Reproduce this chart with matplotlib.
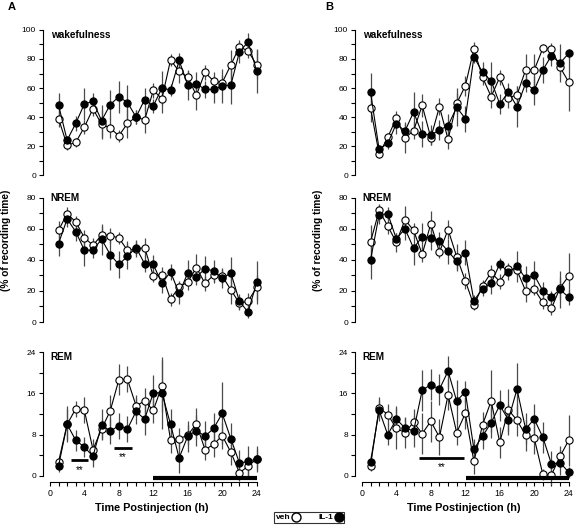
import matplotlib
matplotlib.use('Agg')
import matplotlib.pyplot as plt
from matplotlib.ticker import MultipleLocator
from matplotlib.lines import Line2D

plt.rcParams['font.family'] = ['Liberation Sans', 'DejaVu Sans']

hours = list(range(1, 25))

# ---- Panel A ----
wakeA_veh = [38.9, 20.5, 22.5, 33, 45.7, 35, 32.4, 27, 35.6, 40, 38, 58.4, 52.6, 79.3, 71.5, 67.4, 55, 70.8, 64.8, 63.7, 75.9, 88.5, 85.5, 75.9]
wakeA_veh_err = [6, 3, 3, 5, 5, 10, 7, 4, 10, 5, 9, 5, 10, 4, 8, 5, 10, 5, 6, 5, 10, 3, 5, 10]
wakeA_il1 = [48.3, 24, 35.6, 49, 50.8, 37.5, 48.5, 54, 50, 40, 52, 47.6, 60, 58.6, 79, 62, 63, 59, 59, 61.4, 62, 85, 91.7, 71.7]
wakeA_il1_err = [8, 3, 5, 11, 6, 11, 10, 11, 12, 5, 8, 5, 12, 4, 5, 10, 8, 6, 9, 12, 13, 8, 6, 15]

nremA_veh = [59.1, 69.9, 64.5, 54.4, 49.5, 56.1, 55.7, 54.2, 46.3, 47.1, 48, 29.6, 30.6, 14.6, 22.7, 25.7, 35.1, 24.9, 30.2, 29.6, 20.8, 12, 13.5, 22.3]
nremA_veh_err = [6, 4, 4, 5, 5, 6, 5, 4, 6, 5, 6, 4, 5, 4, 4, 5, 9, 5, 5, 5, 9, 4, 5, 8]
nremA_il1 = [50.6, 66.4, 58.3, 46.3, 46.3, 53.4, 43.5, 37.1, 42.4, 48, 37.5, 37.1, 24.9, 32.4, 18.4, 31.7, 29.1, 34.3, 33, 28.1, 31.7, 13.3, 6.4, 25.5]
nremA_il1_err = [8, 5, 6, 10, 5, 10, 10, 9, 8, 5, 5, 6, 6, 5, 7, 8, 5, 8, 7, 6, 10, 5, 4, 14]

remA_veh = [2.7, 10, 13, 12.7, 5.1, 9.1, 12.6, 18.6, 18.7, 13.6, 14.5, 12.7, 17.4, 7.0, 7.2, 7.9, 10.1, 5.1, 6.1, 7.8, 4.6, 0.6, 1.9, 3.3]
remA_veh_err = [1, 3, 1.5, 2.5, 2, 2, 3, 3, 2.5, 2, 2.5, 2.5, 5, 2.5, 2, 2, 3, 2, 2.5, 2.5, 2.5, 1.5, 2, 2]
remA_il1 = [1.9, 10, 6.9, 5.6, 3.8, 9.9, 8.7, 9.7, 9.1, 12.5, 11, 16.1, 16.1, 10, 3.5, 7.7, 8.8, 7.7, 9.2, 12.1, 7.2, 2.5, 2.8, 3.3]
remA_il1_err = [1.2, 3.5, 2, 2, 2, 3, 2.5, 2.5, 2.5, 2.5, 3, 3.5, 7, 3, 3, 3, 3, 3, 3, 6, 3, 2.5, 3, 2.5]

# ---- Panel B ----
wakeB_veh = [46.4, 14.5, 26, 39.3, 25.5, 30.6, 48, 25.7, 47.1, 24.6, 49.4, 61.4, 86.9, 67.4, 54, 67.4, 53.3, 55.2, 72.4, 72.4, 87.4, 86.9, 74.3, 64.1]
wakeB_veh_err = [10, 3, 3, 5, 10, 6, 8, 5, 6, 7, 7, 7, 5, 5, 8, 5, 7, 6, 11, 11, 3, 4, 5, 20]
wakeB_il1 = [57.2, 17.7, 21.8, 35.4, 30.3, 43.4, 28.3, 27.6, 31, 34, 46.7, 38.9, 81.4, 70.8, 65, 49, 57.2, 47.1, 63.2, 58.6, 72.4, 82.3, 77.2, 83.9]
wakeB_il1_err = [13, 3, 4, 7, 6, 14, 9, 7, 7, 8, 13, 9, 4, 7, 13, 7, 6, 14, 6, 10, 9, 7, 13, 3]

nremB_veh = [51.6, 72, 61.9, 51.4, 66, 59.1, 43.7, 63.4, 45, 59.6, 42.2, 26.6, 10.7, 23.4, 31.9, 26.1, 34.1, 33.4, 20.1, 21.2, 12.6, 8.8, 22.1, 29.6]
nremB_veh_err = [11, 4, 5, 6, 9, 5, 5, 8, 4, 6, 8, 5, 3, 4, 5, 5, 4, 4, 7, 4, 4, 4, 7, 15]
nremB_il1 = [39.9, 69.2, 69.9, 53.6, 60.2, 47.6, 55.1, 54.2, 52.1, 45.6, 39.2, 44.8, 13.7, 21.6, 25.1, 37.5, 32.1, 36, 28.1, 30.2, 20.1, 16.1, 21, 15.9]
nremB_il1_err = [12, 6, 4, 4, 7, 11, 9, 8, 6, 8, 6, 8, 4, 5, 7, 4, 5, 10, 8, 9, 6, 4, 12, 5]

remB_veh = [2, 13.2, 11.9, 9.2, 8.4, 10.4, 8.2, 10.6, 7.5, 15.7, 8.4, 12.1, 2.8, 9.9, 14.5, 6.5, 12.8, 10.8, 7.9, 7.3, 0.3, 0.2, 3.8, 6.9]
remB_veh_err = [1, 2, 2, 4, 3, 2.5, 4, 4, 3.5, 3, 2.5, 3, 2.5, 2.5, 6, 3, 4, 3, 3, 3, 1, 2, 2, 5]
remB_il1 = [2.7, 12.7, 8, 11, 9.3, 8.7, 16.6, 17.7, 16.8, 20.3, 14.5, 16.3, 5.2, 7.7, 10.3, 13.7, 10.9, 16.8, 9.1, 11, 7.5, 2.3, 2.6, 0.7]
remB_il1_err = [1.3, 2, 2, 2.5, 2, 3, 4, 3, 3, 3, 4, 2, 2, 2.5, 3, 3, 3, 5, 3, 3, 3, 2.5, 2.5, 1]

# significance periods (h)
sigA_short = [(2.45, 4.45), (7.4, 9.55)]
sigA_short_y = [3.0, 5.4]
sigA_long = (12.0, 24.0)
sigB_short = [(6.6, 11.9)]
sigB_short_y = [3.55]
sigB_long = (12.1, 24.0)

x_ticks = [0, 4, 8, 12, 16, 20, 24]

fig = plt.figure(figsize=(5.75, 5.3), dpi=100)

W = 218 / 575
lefts = [43 / 575, 355 / 575]
rows = {
    'wake': (0.6698, 0.2736, (0, 100), 20, 10, 'wakefulness', 100),
    'nrem': (0.39245, 0.2340, (0, 80), 20, 10, 'NREM', 83),
    'rem': (0.0898, 0.246, (-1.25, 24), 8, 4, 'REM', 24),
}

data = {
    (0, 'wake'): (wakeA_veh, wakeA_veh_err, wakeA_il1, wakeA_il1_err),
    (0, 'nrem'): (nremA_veh, nremA_veh_err, nremA_il1, nremA_il1_err),
    (0, 'rem'): (remA_veh, remA_veh_err, remA_il1, remA_il1_err),
    (1, 'wake'): (wakeB_veh, wakeB_veh_err, wakeB_il1, wakeB_il1_err),
    (1, 'nrem'): (nremB_veh, nremB_veh_err, nremB_il1, nremB_il1_err),
    (1, 'rem'): (remB_veh, remB_veh_err, remB_il1, remB_il1_err),
}

def draw(ax, veh, veh_err, il1, il1_err):
    for vals, errs in ((veh, veh_err), (il1, il1_err)):
        cont = ax.errorbar(hours, vals, yerr=errs, fmt='none', ecolor='#4a4a4a',
                           elinewidth=0.9, capsize=0, zorder=2)
        for coll in cont.lines[2]:
            coll.set_clip_on(False)
    ax.plot(hours, veh, '-o', color='black', lw=0.8, mfc='white', mec='black',
            ms=5.2, mew=0.8, clip_on=False, zorder=3)
    ax.plot(hours, il1, '-o', color='black', lw=0.8, mfc='black', mec='black',
            ms=5.2, mew=0.8, clip_on=False, zorder=4)

for ci, left in enumerate(lefts):
    for key, (bottom, height, ylim, major, minor, title, ty) in rows.items():
        ax = fig.add_axes([left, bottom, W, height])
        ax.set_xlim(-0.8, 24.5)
        ax.set_ylim(*ylim)
        for s in ('top', 'right'):
            ax.spines[s].set_visible(False)
        ax.spines['left'].set_linewidth(0.8)
        ax.spines['left'].set_bounds(0, ylim[1])
        ax.yaxis.set_major_locator(MultipleLocator(major))
        ax.yaxis.set_minor_locator(MultipleLocator(minor))
        ax.tick_params(axis='y', which='both', length=3, width=0.8, labelsize=6, pad=2)
        ax.patch.set_visible(False)
        draw(ax, *data[(ci, key)])
        ax.text(0.1, ty, title, fontsize=7.2, fontweight='bold', ha='left', va='top')
        if key == 'rem':
            ax.spines['bottom'].set_bounds(0, 24)
            ax.spines['bottom'].set_linewidth(0.8)
            ax.set_xticks(x_ticks)
            ax.xaxis.set_minor_locator(MultipleLocator(1))
            ax.tick_params(axis='x', which='both', length=3, width=0.8, labelsize=6.3, pad=2)
            ax.set_xlabel('Time Postinjection (h)', fontsize=7.8, fontweight='bold', labelpad=3)
            if ci == 0:
                shorts, ys, longp = sigA_short, sigA_short_y, sigA_long
            else:
                shorts, ys, longp = sigB_short, sigB_short_y, sigB_long
            for (a, b), yv in zip(shorts, ys):
                ax.plot([a, b], [yv, yv], color='black', lw=2.0, solid_capstyle='butt', clip_on=False)
                ax.text((a + b) / 2, yv - 0.8, '**', fontsize=7, ha='center', va='top')
            ax.plot(list(longp), [-0.45, -0.45], color='black', lw=3.0, solid_capstyle='butt', clip_on=False, zorder=5)
        else:
            ax.spines['bottom'].set_visible(False)
            ax.set_xticks([])

# y labels
fig.text(6 / 575, 1 - 240 / 530, '(% of recording time)', rotation=90, fontsize=7.3,
         fontweight='bold', ha='center', va='center')
fig.text(318 / 575, 1 - 240 / 530, '(% of recording time)', rotation=90, fontsize=7.3,
         fontweight='bold', ha='center', va='center')

# panel letters
fig.text(8 / 575, 1 - 7 / 530, 'A', fontsize=8, fontweight='bold', ha='left', va='center')
fig.text(325 / 575, 1 - 7 / 530, 'B', fontsize=8, fontweight='bold', ha='left', va='center')

handles = [Line2D([], [], marker='o', ls='none', mfc='white', mec='black', ms=6.5, mew=1.0),
           Line2D([], [], marker='o', ls='none', mfc='black', mec='black', ms=6.5, mew=1.0)]
leg = fig.legend(handles, ['veh', 'IL-1'], loc='center', bbox_to_anchor=(0.538, 1 - 517.5 / 530),
                 ncol=2, frameon=True, fancybox=False, edgecolor='black', markerfirst=False,
                 prop={'size': 6, 'weight': 'bold'}, handlelength=0.9, handletextpad=0.3,
                 columnspacing=2.2, borderpad=0.15, borderaxespad=0)
leg.get_frame().set_linewidth(0.8)

fig.savefig('out.png', dpi=100)
